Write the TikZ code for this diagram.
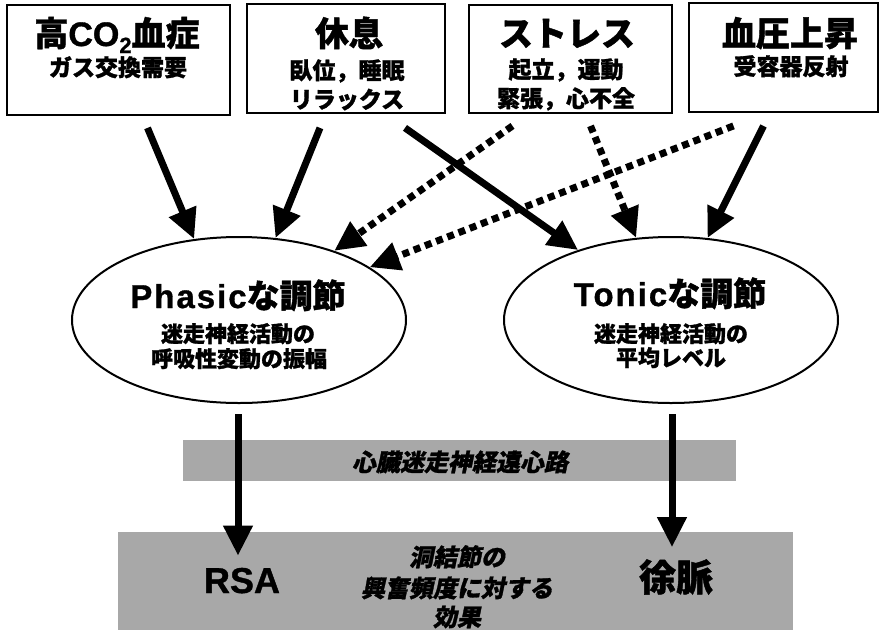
\documentclass[tikz,border=0pt]{standalone}
\usepackage{fontspec}
\usetikzlibrary{arrows.meta,shapes.geometric}
\setmainfont{Liberation Sans}
\newfontfamily\jp{Noto Sans CJK JP}[BoldFeatures={FakeBold=1.2}]
\newfontfamily\jpsl{Noto Sans CJK JP}[FakeSlant=0.2,BoldFeatures={FakeBold=1.2}]
\newfontfamily\lat{Liberation Sans}[BoldFeatures={FakeBold=1}]
\newfontfamily\latsp{Liberation Sans}[LetterSpace=6,BoldFeatures={FakeBold=1}]
\newcommand\fsz[1]{\fontsize{#1}{#1}\selectfont}
\definecolor{bandgray}{gray}{0.66}
\begin{document}
\begin{tikzpicture}[x=1pt,y=-1pt,
  box/.style={draw, line width=1.8pt, inner sep=0pt},
  ell/.style={ellipse, draw, line width=2pt, minimum width=334pt, minimum height=166pt, inner sep=0pt},
  arr/.style={line width=7pt, -{Triangle[length=30pt,width=28pt]}},
  dotarr/.style={arr, dash pattern=on 7pt off 5pt},
  band/.style={fill=bandgray, draw=none, inner sep=0pt},
  ttl/.style={inner sep=0pt, anchor=base, font=\bfseries\fsz{34}\jp},
  sub/.style={inner sep=0pt, anchor=base, font=\bfseries\fsz{23}\jp},
  esub/.style={inner sep=0pt, anchor=base, font=\bfseries\fsz{22}\jp},
  bt/.style={inner sep=0pt, anchor=base, font=\bfseries\fsz{24}\jpsl}
]
\useasboundingbox (0,0) rectangle (889,630);

% bands
\node[band, minimum width=553pt, minimum height=41pt] (band1) at (459.5,460.5) {};
\node[band, minimum width=675pt, minimum height=98pt] (band2) at (455.5,581) {};

% boxes
\node[box, minimum width=223pt, minimum height=110pt] (b1) at (118.5,60) {};
\node[box, minimum width=198pt, minimum height=109pt] (b2) at (346,58.5) {};
\node[box, minimum width=203pt, minimum height=108pt] (b3) at (570.5,59) {};
\node[box, minimum width=189pt, minimum height=109pt] (b4) at (783.5,57.5) {};

\node[ttl] (t1) at (117,46) {高{\lat CO\raisebox{-7pt}{\fsz{22}2}}血症};
\node[sub] (s1) at (118,76) {ガス交換需要};
\node[ttl] (t2) at (349,46) {休息};
\node[sub] (s2a) at (347,79) {臥位，睡眠};
\node[sub] (s2b) at (347,108) {リラックス};
\node[ttl] (t3) at (567,46) {ストレス};
\node[sub] (s3a) at (566,78) {起立，運動};
\node[sub] (s3b) at (566,107) {緊張，心不全};
\node[ttl] (t4) at (790,46) {血圧上昇};
\node[sub] (s4) at (791,75) {受容器反射};

% ellipses
\node[ell] (ph) at (239,320) {};
\node[ell] (to) at (671,320) {};
\node[inner sep=0pt, anchor=base, font=\bfseries\fsz{33}] (pht) at (238,308) {{\latsp Phasic}{\jp な調節}};
\node[esub] (phs1) at (238,342) {迷走神経活動の};
\node[esub] (phs2) at (239,367) {呼吸性変動の振幅};
\node[inner sep=0pt, anchor=base, font=\bfseries\fsz{33}] (tot) at (670,306) {{\latsp Tonic}{\jp な調節}};
\node[esub] (tos1) at (671,342) {迷走神経活動の};
\node[esub] (tos2) at (671,366) {平均レベル};

% band texts
\node[bt] (bt1) at (460,471) {心臓迷走神経遠心路};
\node[bt] (bt2a) at (457,566) {洞結節の};
\node[bt] (bt2b) at (457,597) {興奮頻度に対する};
\node[bt] (bt2c) at (457,626) {効果};
\node[inner sep=0pt, anchor=base, font=\bfseries\fsz{36}\lat] (rsa) at (242,593) {RSA};
\node[inner sep=0pt, anchor=base, font=\bfseries\fsz{37}\jp] (jm) at (676,591) {徐脈};

% dotted arrows
\draw[dotarr] ([xshift=-58pt,yshift=-12pt]b3.south) -- (ph.36);
\draw[dotarr] ([xshift=-50pt,yshift=-13pt]b4.south) -- (ph.22);
\draw[dotarr] ([xshift=20pt,yshift=-12pt]b3.south) -- (to.113);

% solid arrows
\draw[arr] ([xshift=29pt,yshift=-12pt]b1.south) -- (ph.119);
\draw[arr] ([xshift=-26pt,yshift=-14pt]b2.south) -- (ph.66);
\draw[arr] ([xshift=59pt,yshift=-14pt]b2.south) -- (to.143);
\draw[arr] ([xshift=-20pt,yshift=-13pt]b4.south) -- (to.66);

% bottom arrows
\draw[arr] ([yshift=-10pt]ph.south -| 238,0) -- ([yshift=12pt]rsa.north -| 238,0);
\draw[arr] ([yshift=-10pt]to.south -| 672,0) -- ([yshift=12pt]jm.north -| 672,0);
\end{tikzpicture}
\end{document}
